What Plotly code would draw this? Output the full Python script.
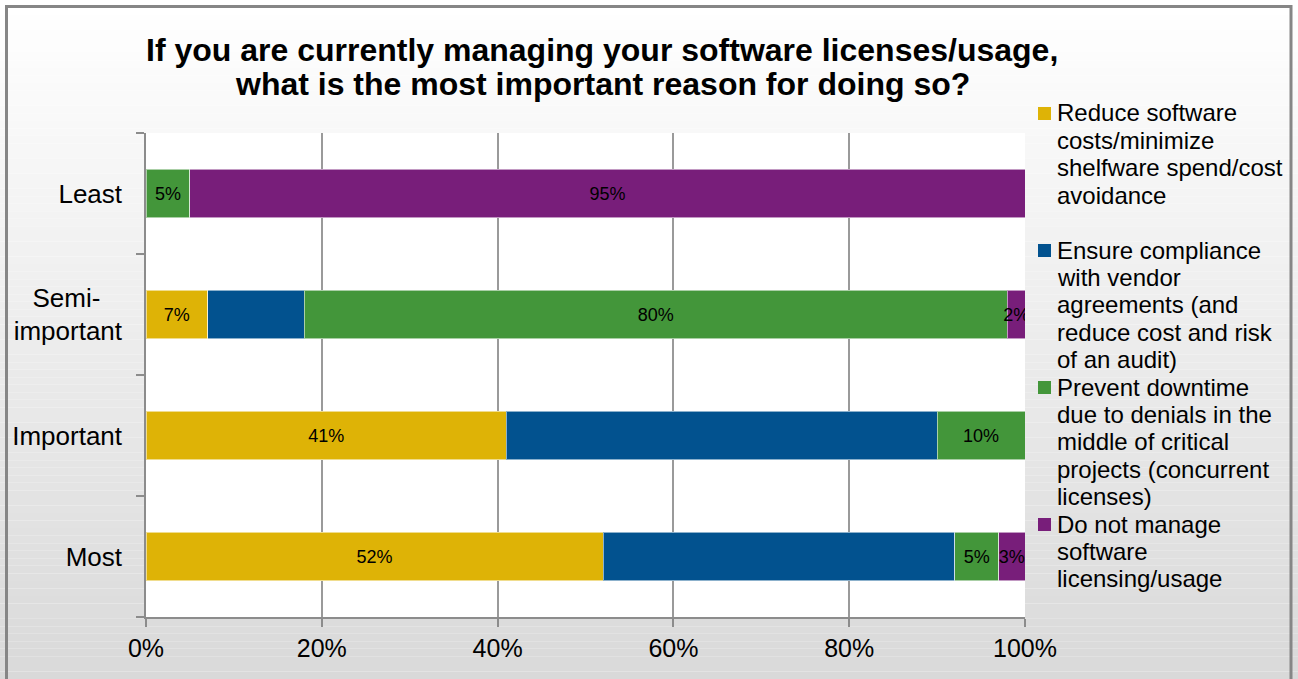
import plotly.graph_objects as go

# ---- data -------------------------------------------------------------
categories = ["Most", "Important", "Semi-important", "Least"]
category_ticktext = ["Most", "Important", "Semi-&nbsp;&nbsp;&nbsp;<br>important", "Least"]

series_names = [
    "Reduce software costs/minimize shelfware spend/cost avoidance",
    "Ensure compliance with vendor agreements (and reduce cost and risk of an audit)",
    "Prevent downtime due to denials in the middle of critical projects (concurrent licenses)",
    "Do not manage software licensing/usage",
]
reduce_costs = [52, 41, 7, 0]
ensure_compliance = [40, 49, 11, 0]
prevent_downtime = [5, 10, 80, 5]
do_not_manage = [3, 0, 2, 95]
series_values = [reduce_costs, ensure_compliance, prevent_downtime, do_not_manage]
series_labelled = [True, False, True, True]
series_colors = ["#DEB306", "#02528F", "#43963A", "#781E7A"]

legend_lines = [
    ["Reduce software", "costs/minimize", "shelfware spend/cost", "avoidance"],
    ["Ensure compliance", "with vendor", "agreements (and", "reduce cost and risk", "of an audit)"],
    ["Prevent downtime", "due to denials in the", "middle of critical", "projects (concurrent", "licenses)"],
    ["Do not manage", "software", "licensing/usage"],
]

title_lines = [
    "If you are currently managing your software licenses/usage,",
    "what is the most important reason for doing so?",
]

# ---- geometry ---------------------------------------------------------
W, H = 1298, 679
L, R, T, B = 146, 1025, 133, 617
FONT = "Arial, Liberation Sans, sans-serif"


def px_x(x):
    return (x - L) / (R - L)


def px_y(y):
    return (B - y) / (B - T)


fig = go.Figure()

for name, vals, labelled, color in zip(series_names, series_values, series_labelled, series_colors):
    texts = [f"{v}%" if (labelled and v > 0) else "" for v in vals]
    fig.add_trace(go.Bar(
        y=categories, x=vals, orientation="h", name=name,
        marker=dict(color=color, line=dict(color="rgba(255,255,255,0.55)", width=1)),
        text=texts, textposition="inside", insidetextanchor="middle",
        textangle=0, constraintext="none",
        textfont=dict(family=FONT, size=18, color="#000000"),
        hoverinfo="skip",
    ))

shapes = []
# vertical background gradient
n_bands = 90
for i in range(n_bands):
    y0 = i * H / n_bands
    y1 = (i + 1) * H / n_bands
    t = max(0.0, min(1.0, ((y0 + y1) / 2 - 6) / (H - 6)))
    c = round(255 - 38 * t)
    shapes.append(dict(type="rect", xref="paper", yref="paper", layer="below",
                       x0=px_x(0), x1=px_x(W), y0=px_y(y1), y1=px_y(y0),
                       fillcolor=f"rgb({c},{c},{c})", line=dict(width=0)))
# white plotting area
shapes.append(dict(type="rect", xref="paper", yref="paper", layer="below",
                   x0=0, x1=1, y0=0, y1=1, fillcolor="#ffffff", line=dict(width=0)))
# outer frame
shapes.append(dict(type="rect", xref="paper", yref="paper", layer="above",
                   x0=px_x(6.5), x1=px_x(1291), y0=px_y(720), y1=px_y(6.5),
                   fillcolor="rgba(0,0,0,0)", line=dict(color="#868686", width=3)))

annotations = []
# title
for i, line in enumerate(title_lines):
    annotations.append(dict(xref="paper", yref="paper", x=px_x(602), y=px_y(50 + i * 34),
                            xanchor="center", yanchor="middle", showarrow=False,
                            text=f"<b>{line}</b>",
                            font=dict(family=FONT, size=32, color="#000000")))

# legend
line_step = 27.4
row = 0
for k, lines in enumerate(legend_lines):
    y_first = 113 + row * line_step
    shapes.append(dict(type="rect", xref="paper", yref="paper", layer="above",
                       x0=px_x(1038), x1=px_x(1051), y0=px_y(y_first + 7), y1=px_y(y_first - 6),
                       fillcolor=series_colors[k], line=dict(width=0)))
    for j, line in enumerate(lines):
        annotations.append(dict(xref="paper", yref="paper", x=px_x(1055),
                                y=px_y(y_first + j * line_step),
                                xanchor="left", yanchor="middle", showarrow=False,
                                text=line, font=dict(family=FONT, size=24, color="#000000")))
    row += len(lines)
    if k == 0:
        row += 1

fig.update_layout(
    width=W, height=H,
    margin=dict(l=L, r=W - R, t=T, b=H - B, pad=0),
    barmode="stack", bargap=0.603,
    paper_bgcolor="#ffffff", plot_bgcolor="#ffffff",
    showlegend=False,
    shapes=shapes, annotations=annotations,
    font=dict(family=FONT, color="#000000"),
    xaxis=dict(range=[0, 100], dtick=20, tick0=0, ticksuffix="%",
               showgrid=True, gridcolor="#9a9a9a", gridwidth=1.5,
               showline=True, linecolor="#8c8c8c", linewidth=1.5,
               ticks="outside", ticklen=8, tickcolor="#8c8c8c", tickwidth=1.5,
               zeroline=False, fixedrange=True,
               tickfont=dict(family=FONT, size=25, color="#000000")),
    yaxis=dict(type="category", categoryorder="array", categoryarray=categories,
               tickmode="array", tickvals=categories, ticktext=category_ticktext,
               tickson="boundaries", ticks="outside", ticklen=8,
               tickcolor="#8c8c8c", tickwidth=1.5,
               showline=True, linecolor="#8c8c8c", linewidth=1.5,
               showgrid=False, zeroline=False, fixedrange=True,
               ticklabelstandoff=17,
               tickfont=dict(family=FONT, size=26, color="#000000")),
)

fig.write_html("out.html")
